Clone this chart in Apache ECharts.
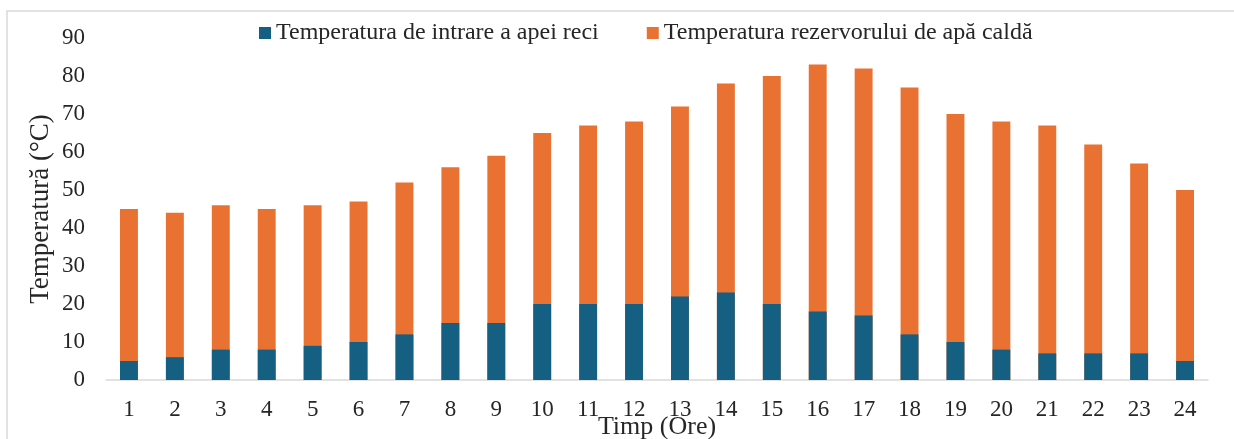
<!DOCTYPE html>
<html>
<head>
<meta charset="utf-8">
<script src="https://cdn.jsdelivr.net/npm/echarts@6/dist/echarts.min.js"></script>
<style>
  html, body { margin: 0; padding: 0; background: #fff; }
  #chart { width: 1234px; height: 439px; }
</style>
</head>
<body>
<div id="chart"></div>
<script>
// Hours of the day
const hours = ['1','2','3','4','5','6','7','8','9','10','11','12','13','14','15','16','17','18','19','20','21','22','23','24'];
// Cold water inlet temperature (°C)
const inletTemp = [5, 6, 8, 8, 9, 10, 12, 15, 15, 20, 20, 20, 22, 23, 20, 18, 17, 12, 10, 8, 7, 7, 7, 5];
// Hot water tank temperature (°C)
const tankTemp = [45, 44, 46, 45, 46, 47, 52, 56, 59, 65, 67, 68, 72, 78, 80, 83, 82, 77, 70, 68, 67, 62, 57, 50];

const nameInlet = 'Temperatura de intrare a apei reci';
const nameTank = 'Temperatura rezervorului de apă caldă';

const FONT = '"Liberation Serif", "Times New Roman", serif';
const TEXT = '#262626';

const chart = echarts.init(document.getElementById('chart'), null, { renderer: 'canvas' });
chart.setOption({
  animation: false,
  textStyle: { fontFamily: FONT, color: TEXT },
  graphic: [{
    type: 'rect',
    shape: { x: 7, y: 11, width: 1240, height: 440 },
    style: { fill: 'none', stroke: '#d9d9d9', lineWidth: 1.5 },
    silent: true
  }],
  legend: {
    data: [nameInlet, nameTank],
    left: 254,
    top: 16,
    itemWidth: 12,
    itemHeight: 12,
    itemGap: 48,
    icon: 'rect',
    textStyle: { fontFamily: FONT, fontSize: 24, color: TEXT }
  },
  grid: { left: 106, right: 26, top: 38, bottom: 59, outerBoundsMode: 'none' },
  xAxis: {
    type: 'category',
    data: hours,
    name: 'Timp (Ore)',
    nameLocation: 'middle',
    nameGap: 34,
    nameMoveOverlap: false,
    nameTextStyle: { fontFamily: FONT, fontSize: 26, color: TEXT },
    axisLine: { lineStyle: { color: '#d9d9d9', width: 1.5 } },
    axisTick: { show: false },
    axisLabel: { fontFamily: FONT, fontSize: 23, color: TEXT, margin: 18 }
  },
  yAxis: {
    type: 'value',
    min: 0,
    max: 90,
    interval: 10,
    name: 'Temperatură (°C)',
    nameLocation: 'middle',
    nameGap: 52,
    nameMoveOverlap: false,
    nameTextStyle: { fontFamily: FONT, fontSize: 27, color: TEXT },
    axisLine: { show: false },
    axisTick: { show: false },
    splitLine: { show: false },
    axisLabel: { fontFamily: FONT, fontSize: 23, color: TEXT, margin: 21 }
  },
  series: [
    {
      name: nameInlet,
      type: 'bar',
      data: inletTemp,
      barWidth: '39%',
      barGap: '-100%',
      z: 3,
      itemStyle: { color: '#156082' }
    },
    {
      name: nameTank,
      type: 'bar',
      data: tankTemp,
      barWidth: '39%',
      barGap: '-100%',
      z: 2,
      itemStyle: { color: '#E97132' }
    }
  ]
});
</script>
</body>
</html>
